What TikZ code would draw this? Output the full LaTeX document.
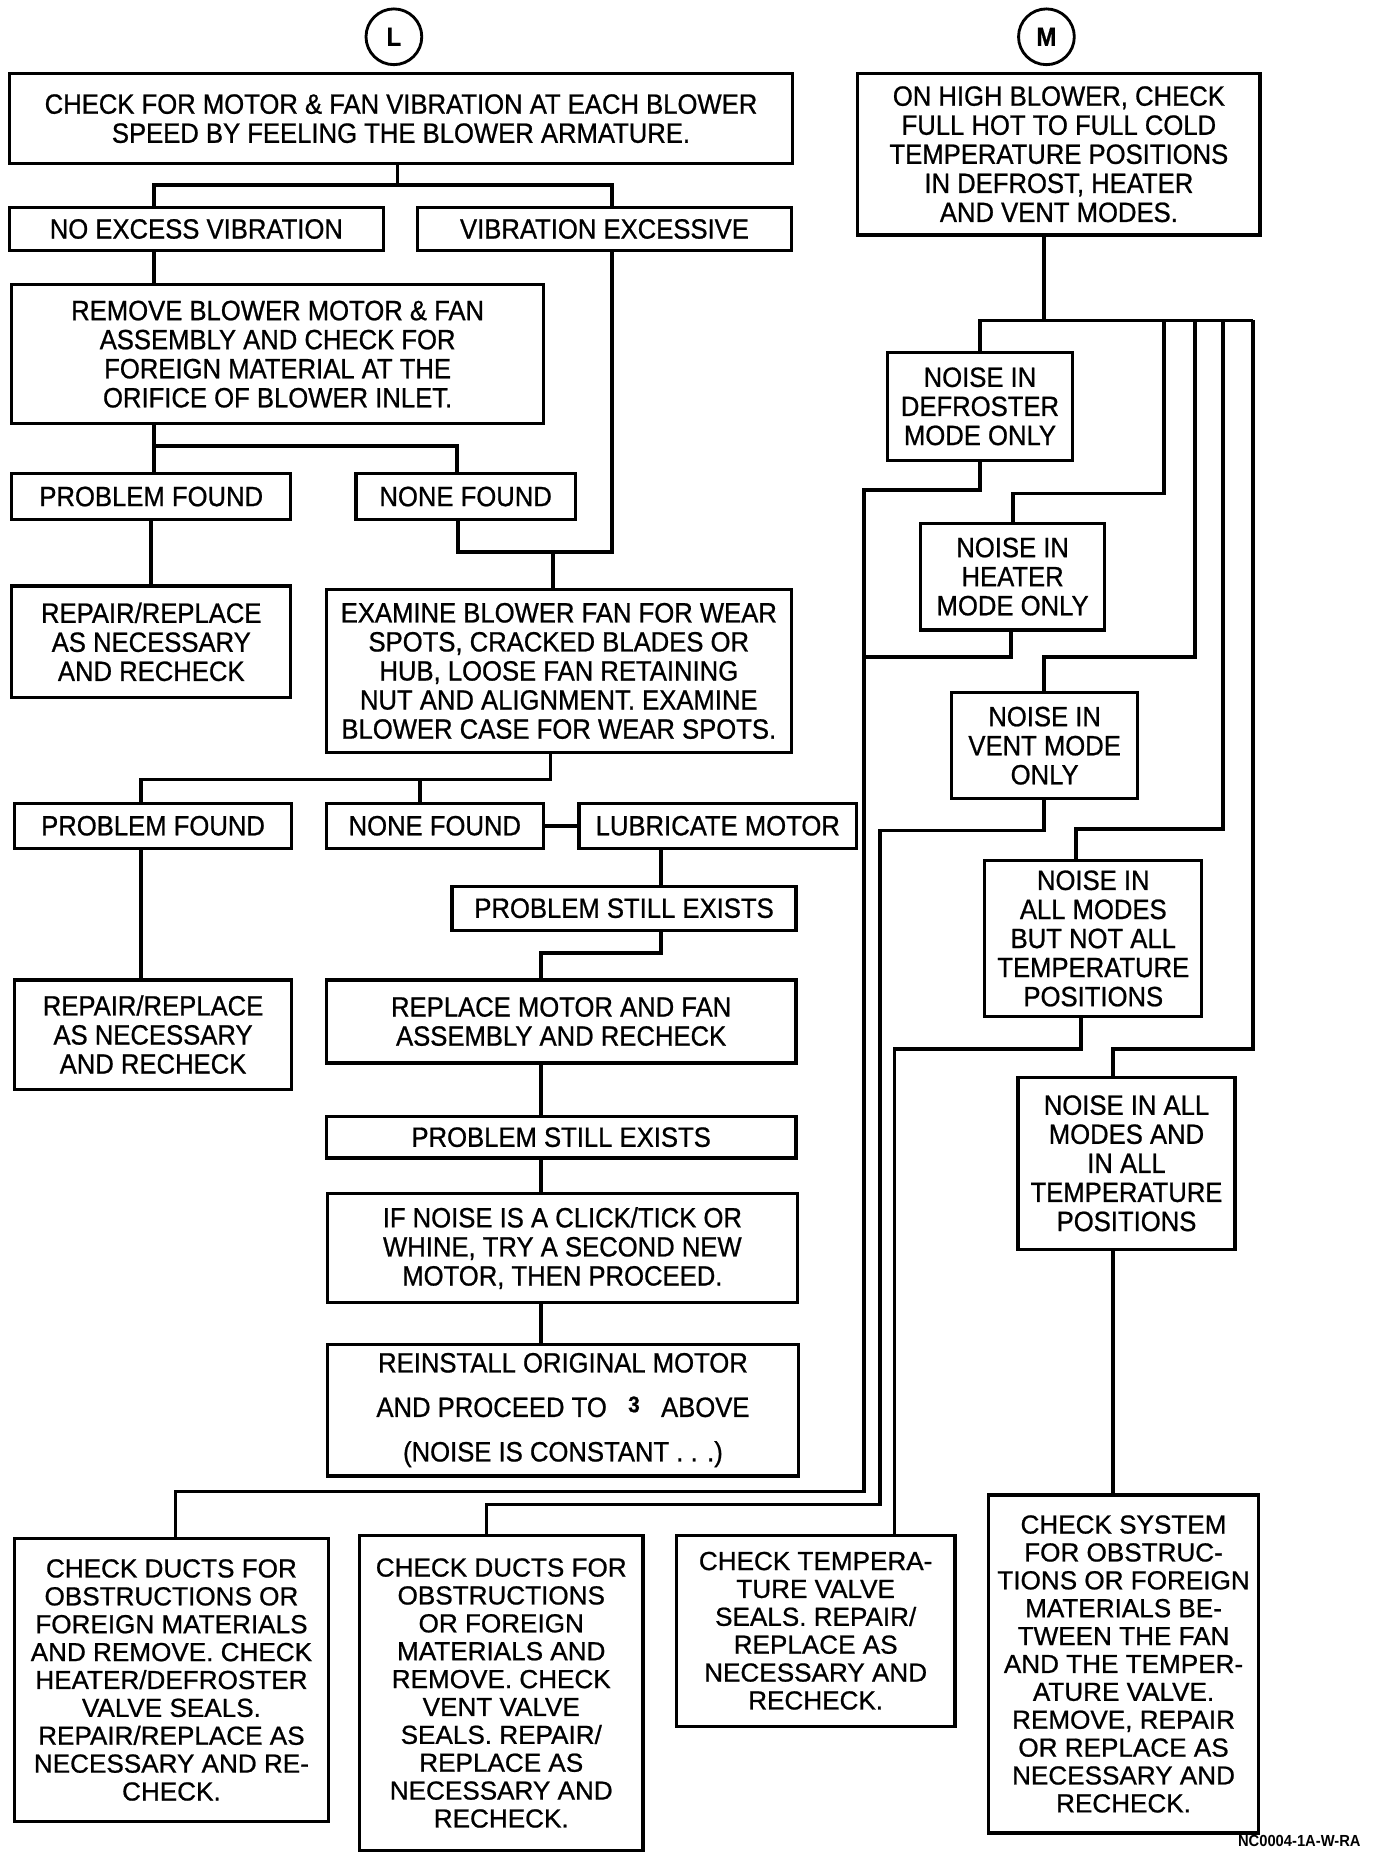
\documentclass[tikz,border=0pt]{standalone}
\usepackage{fontspec}
\setmainfont{Liberation Sans}[FakeStretch=0.92,FakeBold=0.8]
\newfontfamily\botfam{Liberation Sans}[FakeBold=0.8]
\newfontfamily\labfam{Liberation Sans}[FakeStretch=0.92]
\newcommand\myUp{\fontsize{23.5}{24.5}\selectfont}
\newcommand\myBot{\botfam\fontsize{22}{23.5}\selectfont}
\begin{document}
\begin{tikzpicture}[x=1pt,y=-1pt,
  box/.style={draw, line width=2.7pt, rectangle, inner sep=0pt, align=center, font=\myUp},
  bbox/.style={box, font=\myBot},
  circ/.style={draw, circle, line width=2.4pt, inner sep=0pt, minimum size=47pt, font=\fontsize{22}{22}\selectfont\bfseries},
  conn/.style={line width=3.1pt}]
\useasboundingbox (0,0) rectangle (1160,1561);
\fill[white] (0,0) rectangle (1160,1561);

% ---------- left column ----------
\node[circ] (L) at (332,31) {L};
\node[box, minimum width=660, minimum height=76] (b1) at (338,100) {CHECK FOR MOTOR \& FAN VIBRATION AT EACH BLOWER\\SPEED BY FEELING THE BLOWER ARMATURE.};
\node[box, minimum width=315, minimum height=36] (noexc) at (165.5,193) {NO EXCESS VIBRATION};
\node[box, minimum width=315, minimum height=36] (vibex) at (509.5,193) {VIBRATION EXCESSIVE};
\node[box, minimum width=448, minimum height=117] (remove) at (234,298.5) {REMOVE BLOWER MOTOR \& FAN\\ASSEMBLY AND CHECK FOR\\FOREIGN MATERIAL AT THE\\ORIFICE OF BLOWER INLET.};
\node[box, minimum width=235, minimum height=39] (pf1) at (127.5,418.5) {PROBLEM FOUND};
\node[box, minimum width=185, minimum height=39] (nf1) at (392.5,418.5) {NONE FOUND};
\node[box, minimum width=235, minimum height=94] (rep1) at (127.5,541) {REPAIR/REPLACE\\AS NECESSARY\\AND RECHECK};
\node[box, minimum width=392, minimum height=137] (exam) at (471,565.5) {EXAMINE BLOWER FAN FOR WEAR\\SPOTS, CRACKED BLADES OR\\HUB, LOOSE FAN RETAINING\\NUT AND ALIGNMENT. EXAMINE\\BLOWER CASE FOR WEAR SPOTS.};
\node[box, minimum width=234, minimum height=38] (pf2) at (129,696) {PROBLEM FOUND};
\node[box, minimum width=183, minimum height=38] (nf2) at (366.5,696) {NONE FOUND};
\node[box, minimum width=234, minimum height=38] (lub) at (605,696) {LUBRICATE MOTOR};
\node[box, minimum width=290, minimum height=37] (pse1) at (526,765.5) {PROBLEM STILL EXISTS};
\node[box, minimum width=234, minimum height=92] (rep2) at (129,872) {REPAIR/REPLACE\\AS NECESSARY\\AND RECHECK};
\node[box, minimum width=396, minimum height=70] (repl) at (473,861) {REPLACE MOTOR AND FAN\\ASSEMBLY AND RECHECK};
\node[box, minimum width=396, minimum height=35] (pse2) at (473,958.5) {PROBLEM STILL EXISTS};
\node[box, minimum width=396, minimum height=92] (ifn) at (474,1052) {IF NOISE IS A CLICK/TICK OR\\WHINE, TRY A SECOND NEW\\MOTOR, THEN PROCEED.};
\node[box, minimum width=397, minimum height=111, font=\fontsize{23.5}{37.5}\selectfont] (rein) at (474.5,1188.5) {REINSTALL ORIGINAL MOTOR\\AND PROCEED TO\hspace{18pt}\raisebox{4pt}{\fontsize{19}{19}\selectfont\bfseries 3}\hspace{18pt}ABOVE\\(NOISE IS CONSTANT . . .)};

% ---------- right column ----------
\node[circ] (M) at (882,31) {M};
\node[box, minimum width=339, minimum height=136] (mbox) at (892.5,130) {ON HIGH BLOWER, CHECK\\FULL HOT TO FULL COLD\\TEMPERATURE POSITIONS\\IN DEFROST, HEATER\\AND VENT MODES.};
\node[box, minimum width=156, minimum height=91] (defr) at (826,342.5) {NOISE IN\\DEFROSTER\\MODE ONLY};
\node[box, minimum width=155, minimum height=90] (heat) at (853.5,486) {NOISE IN\\HEATER\\MODE ONLY};
\node[box, minimum width=157, minimum height=89] (vent) at (880.5,628.5) {NOISE IN\\VENT MODE\\ONLY};
\node[box, minimum width=183, minimum height=132] (allnot) at (921.5,791) {NOISE IN\\ALL MODES\\BUT NOT ALL\\TEMPERATURE\\POSITIONS};
\node[box, minimum width=183, minimum height=145] (allall) at (949.5,980.5) {NOISE IN ALL\\MODES AND\\IN ALL\\TEMPERATURE\\POSITIONS};

% ---------- bottom row ----------
\node[bbox, minimum width=265, minimum height=238] (ducts1) at (144.5,1416) {CHECK DUCTS FOR\\OBSTRUCTIONS OR\\FOREIGN MATERIALS\\AND REMOVE. CHECK\\HEATER/DEFROSTER\\VALVE SEALS.\\REPAIR/REPLACE AS\\NECESSARY AND RE-\\CHECK.};
\node[bbox, minimum width=239, minimum height=266] (ducts2) at (422.5,1427) {CHECK DUCTS FOR\\OBSTRUCTIONS\\OR FOREIGN\\MATERIALS AND\\REMOVE. CHECK\\VENT VALVE\\SEALS. REPAIR/\\REPLACE AS\\NECESSARY AND\\RECHECK.};
\node[bbox, minimum width=235, minimum height=161] (tempv) at (687.5,1374.5) {CHECK TEMPERA-\\TURE VALVE\\SEALS. REPAIR/\\REPLACE AS\\NECESSARY AND\\RECHECK.};
\node[bbox, minimum width=228, minimum height=285] (sys) at (947,1402.5) {CHECK SYSTEM\\FOR OBSTRUC-\\TIONS OR FOREIGN\\MATERIALS BE-\\TWEEN THE FAN\\AND THE TEMPER-\\ATURE VALVE.\\REMOVE, REPAIR\\OR REPLACE AS\\NECESSARY AND\\RECHECK.};
\node[anchor=east, inner sep=0pt, font=\labfam\fontsize{13.5}{13.5}\selectfont\bfseries] (lab) at (1147,1552) {NC0004-1A-W-RA};

% ---------- connectors, left ----------
\coordinate (j1) at (335,156);
\coordinate (j1a) at (130,156);
\coordinate (j1b) at (516,156);
\draw[conn] (b1.south -| j1) -- (j1);
\draw[conn] (noexc.north -| j1a) -- (j1a) -- (j1b) -- (vibex.north -| j1b);
\draw[conn] (noexc.south -| j1a) -- (remove.north -| j1a);

\coordinate (j3a) at (130,376);
\coordinate (j3b) at (385,376);
\draw[conn] (remove.south -| j3a) -- (pf1.north -| j3a);
\draw[conn] (j3a) -- (j3b) -- (nf1.north -| j3b);

\coordinate (j4a) at (516,465);
\coordinate (j4b) at (386,465);
\coordinate (j4c) at (466,465);
\draw[conn] (vibex.south -| j4a) -- (j4a) -- (j4b) -- (nf1.south -| j4b);
\draw[conn] (j4c) -- (exam.north -| j4c);
\draw[conn] (pf1.south) -- (rep1.north);

\coordinate (j6) at (464,657);
\coordinate (j6a) at (119,657);
\coordinate (j6b) at (354,657);
\draw[conn] (exam.south -| j6) -- (j6) -- (j6a) -- (pf2.north -| j6a);
\draw[conn] (j6b) -- (nf2.north -| j6b);
\draw[conn] (nf2.east) -- (lub.west);
\draw[conn] (pf2.south -| j6a) -- (rep2.north -| j6a);

\coordinate (j8) at (557,803);
\coordinate (j8b) at (456,803);
\draw[conn] (lub.south -| j8) -- (pse1.north -| j8);
\draw[conn] (pse1.south -| j8) -- (j8) -- (j8b) -- (repl.north -| j8b);
\draw[conn] (repl.south -| j8b) -- (pse2.north -| j8b);
\draw[conn] (pse2.south -| j8b) -- (ifn.north -| j8b);
\draw[conn] (ifn.south -| j8b) -- (rein.north -| j8b);

% ---------- connectors, right ----------
\coordinate (m0) at (880,270);
\coordinate (m1) at (826,270);
\coordinate (m2) at (981,270);
\coordinate (m3) at (1007,270);
\coordinate (m4) at (1031,270);
\coordinate (m5) at (1056,270);
\draw[conn] (mbox.south -| m0) -- (m0);
\draw[conn] (defr.north -| m1) -- (m1) -- (m5);

\coordinate (h1) at (981,416);
\coordinate (h2) at (854,416);
\draw[conn] (m2) -- (h1) -- (h2) -- (heat.north -| h2);

\coordinate (v1) at (1007,554);
\coordinate (v2) at (880,554);
\draw[conn] (m3) -- (v1) -- (v2) -- (vent.north -| v2);

\coordinate (a1) at (1031,699);
\coordinate (a2) at (907,699);
\draw[conn] (m4) -- (a1) -- (a2) -- (allnot.north -| a2);

\coordinate (s1) at (1056,884);
\coordinate (s2) at (938,884);
\draw[conn] (m5) -- (s1) -- (s2) -- (allall.north -| s2);
\draw[conn] (allall.south -| s2) -- (sys.north -| s2);

\coordinate (d1) at (826,413);
\coordinate (d2) at (728,413);
\coordinate (d3) at (728,1257);
\coordinate (d4) at (148,1257);
\draw[conn] (defr.south -| d1) -- (d1) -- (d2) -- (d3) -- (d4) -- (ducts1.north -| d4);

\coordinate (e1) at (852,554);
\coordinate (e2) at (728,554);
\draw[conn] (heat.south -| e1) -- (e1) -- (e2);

\coordinate (f1) at (880,700);
\coordinate (f2) at (742,700);
\coordinate (f3) at (742,1268);
\coordinate (f4) at (410,1268);
\draw[conn] (vent.south -| f1) -- (f1) -- (f2) -- (f3) -- (f4) -- (ducts2.north -| f4);

\coordinate (g1) at (911,884);
\coordinate (g2) at (754,884);
\draw[conn] (allnot.south -| g1) -- (g1) -- (g2) -- (tempv.north -| g2);
\end{tikzpicture}
\end{document}
